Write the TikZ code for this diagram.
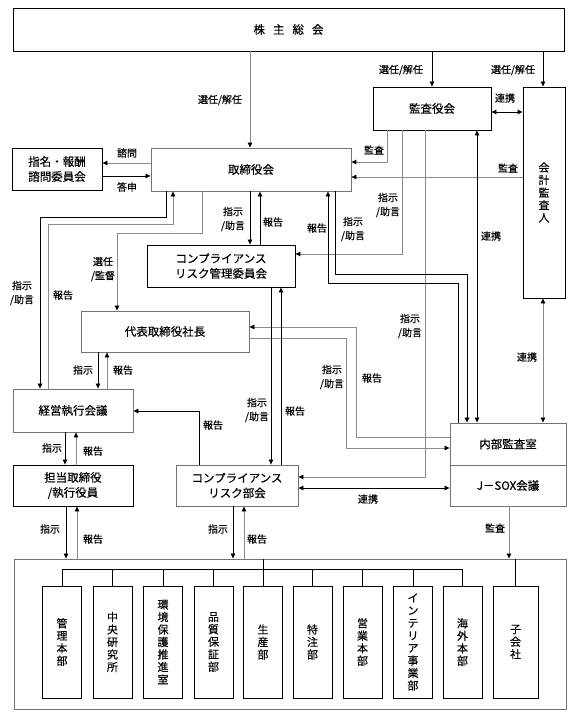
\documentclass[tikz,border=0pt]{standalone}
\usepackage{fontspec}
\setmainfont{Noto Sans CJK JP}[FakeBold=0.35]
\usetikzlibrary{arrows.meta}

\tikzset{
  box/.style={draw, line width=0.9pt, inner sep=0pt, align=center, font=\fontsize{11.5}{15}\selectfont},
  gbox/.style={box, draw=black!55},
  vbox/.style={draw, line width=0.9pt, inner sep=0pt, align=center, font=\fontsize{11}{12.5}\selectfont},
  dept/.style={vbox, minimum width=39pt, minimum height=112pt},
  lbl/.style={inner sep=0pt, align=center, font=\fontsize{10}{14}\selectfont},
  ln/.style={line width=0.8pt},
  gln/.style={line width=0.8pt, draw=black!45}
}

\begin{document}
\begin{tikzpicture}[x=1pt,y=-1pt,>={Triangle[length=5pt,width=4.5pt,color=black]}]
\useasboundingbox (0,0) rectangle (576,717);

\node[box, minimum width=551pt, minimum height=43pt] (kabu) at (288.5,29.5) {株\hspace{8pt}主\hspace{8pt}総\hspace{8pt}会};
\node[box, minimum width=118pt, minimum height=43pt] (kansa) at (432,108.5) {監査役会};
\node[vbox, minimum width=42pt, minimum height=211pt] (kaikei) at (544,192.5) {会\\計\\監\\査\\人};
\node[gbox, minimum width=200pt, minimum height=43pt] (tor) at (251,169.5) {取締役会};
\node[box, minimum width=90pt, minimum height=42pt] (shimei) at (57,169) {指名・報酬\\諮問委員会};
\node[box, minimum width=148pt, minimum height=42pt] (cmte) at (221,266) {コンプライアンス\\リスク管理委員会};
\node[gbox, minimum width=168pt, minimum height=41pt] (ceo) at (165,331.5) {代表取締役社長};
\node[gbox, minimum width=120pt, minimum height=43pt] (keiei) at (73,410.5) {経営執行会議};
\node[box, minimum width=120pt, minimum height=41pt] (tanto) at (73,485.5) {担当取締役\\/執行役員};
\node[gbox, minimum width=122pt, minimum height=41pt] (bukai) at (237,485.5) {コンプライアンス\\リスク部会};
\node[gbox, minimum width=116pt, minimum height=42pt] (naibu) at (508,444) {内部監査室};
\node[gbox, minimum width=116pt, minimum height=41pt] (jsox) at (508,485.5) {J－SOX会議};
\node[gbox, minimum width=552pt, minimum height=150pt] (outer) at (290,634) {};

\node[dept] (d1) at (62,642) {管\\理\\本\\部};
\node[dept] (d2) at (112.5,642) {中\\央\\研\\究\\所};
\node[dept] (d3) at (163,642) {環\\境\\保\\護\\推\\進\\室};
\node[dept] (d4) at (213.5,642) {品\\質\\保\\証\\部};
\node[dept] (d5) at (263,642) {生\\産\\部};
\node[dept] (d6) at (312.5,642) {特\\注\\部};
\node[dept] (d7) at (362.5,642) {営\\業\\本\\部};
\node[dept] (d8) at (413,642) {イ\\ン\\テ\\リ\\ア\\事\\業\\部};
\node[dept] (d9) at (462.5,642) {海\\外\\本\\部};
\node[dept, minimum width=45pt] (d10) at (515.5,642) {子\\会\\社};

\draw[gln,->] (250,0 |- kabu.south) -- (250,0 |- tor.north);
\draw[ln,->] (432,0 |- kabu.south) -- (kansa.north);
\draw[ln,->] (543,0 |- kabu.south) -- (543,0 |- kaikei.north);
\draw[ln,<->] (kansa.east |- 0,112) -- (kaikei.west |- 0,112);
\draw[gln,->] (387,0 |- kansa.south) |- (tor.east |- 0,162);
\draw[gln,->] (kaikei.west |- 0,177) -- (tor.east |- 0,177);
\draw[gln,->] (402,0 |- kansa.south) |- (cmte.east |- 0,254);
\draw[gln,->] (425,0 |- kansa.south) |- (bukai.east |- 0,477);
\draw[ln,<->] (477,0 |- kansa.south) -- (477,0 |- naibu.north);
\draw[gln,<->] (543,0 |- kaikei.south) -- (543,0 |- naibu.north);
\draw[gln,->] (tor.west |- 0,163) -- (shimei.east |- 0,163);
\draw[ln,->] (shimei.east |- 0,176) -- (tor.west |- 0,176);
\draw[ln,->] (166,0 |- tor.south) -- (166,217) -| (40,0 |- keiei.north);
\draw[gln,->] (48,0 |- keiei.north) |- (173,224) -- (173,0 |- tor.south);
\draw[gln,->] (202,0 |- tor.south) -- (202,233) -| (117,0 |- ceo.north);
\draw[ln,->] (250,0 |- tor.south) -- (250,0 |- cmte.north);
\draw[ln,->] (260,0 |- cmte.north) -- (260,0 |- tor.south);
\draw[ln,->] (335,0 |- tor.south) -- (335,274) -| (467,0 |- naibu.north);
\draw[ln,->] (458,0 |- naibu.north) |- (328,283) -- (328,0 |- tor.south);
\draw[gln,->] (ceo.east |- 0,338) -| (346,448) -- (naibu.west |- 0,448);
\draw[gln,->] (naibu.west |- 0,437) -| (356,327) -- (ceo.east |- 0,327);
\draw[ln,->] (98,0 |- ceo.south) -- (98,0 |- keiei.north);
\draw[gln,->] (107,0 |- keiei.north) -- (107,0 |- ceo.south);
\draw[ln,->] (271,0 |- cmte.south) -- (271,0 |- bukai.north);
\draw[ln,->] (281,0 |- bukai.north) -- (281,0 |- cmte.south);
\draw[ln,->] (199,0 |- bukai.north) |- (keiei.east |- 0,411);
\draw[ln,->] (65,0 |- keiei.south) -- (65,0 |- tanto.north);
\draw[gln,->] (76,0 |- tanto.north) -- (76,0 |- keiei.south);
\draw[ln,->] (66,0 |- tanto.south) -- (66,0 |- outer.north);
\draw[gln,->] (77,0 |- outer.north) -- (77,0 |- tanto.south);
\draw[ln,->] (233,0 |- bukai.south) -- (233,0 |- outer.north);
\draw[gln,->] (244,0 |- outer.north) -- (244,0 |- bukai.south);
\draw[ln,<->] (bukai.east |- 0,488) -- (jsox.west |- 0,488);
\draw[gln,->] (509,0 |- jsox.south) -- (509,0 |- outer.north);

\draw[ln] (d1.north) -- (d1.north |- 0,569) -- (d9.north |- 0,569) -- (d9.north);
\draw[ln] (d2.north) -- (d2.north |- 0,569);
\draw[ln] (d3.north) -- (d3.north |- 0,569);
\draw[ln] (d4.north) -- (d4.north |- 0,569);
\draw[ln] (d5.north) -- (d5.north |- outer.north);
\draw[ln] (d6.north) -- (d6.north |- 0,569);
\draw[ln] (d7.north) -- (d7.north |- 0,569);
\draw[ln] (d8.north) -- (d8.north |- 0,569);
\draw[ln] (d10.north) -- (d10.north |- outer.north);

\node[lbl] (l1) at (220,100) {選任/解任};
\node[lbl] (l2) at (401,70) {選任/解任};
\node[lbl] (l3) at (513,70) {選任/解任};
\node[lbl] (l4) at (505,98) {連携};
\node[lbl] (l5) at (374,150) {監査};
\node[lbl] (l6) at (508,168) {監査};
\node[lbl] (l7) at (388,205) {指示\\/助言};
\node[lbl] (l8) at (410,326) {指示\\/助言};
\node[lbl] (l9) at (491,236) {連携};
\node[lbl] (l10) at (527,357) {連携};
\node[lbl] (l11) at (127,153) {諮問};
\node[lbl] (l12) at (127,187) {答申};
\node[lbl] (l13) at (22,293) {指示\\/助言};
\node[lbl] (l14) at (63,295) {報告};
\node[lbl] (l15) at (103,269) {選任\\/監督};
\node[lbl] (l16) at (233,219) {指示\\/助言};
\node[lbl] (l17) at (273,222) {報告};
\node[lbl] (l18) at (353,229) {指示\\/助言};
\node[lbl] (l19) at (317,228) {報告};
\node[lbl] (l20) at (332,377) {指示\\/助言};
\node[lbl] (l21) at (372,378) {報告};
\node[lbl] (l22) at (83,370) {指示};
\node[lbl] (l23) at (123,370) {報告};
\node[lbl] (l24) at (257,410) {指示\\/助言};
\node[lbl] (l25) at (295,411) {報告};
\node[lbl] (l26) at (213,425) {報告};
\node[lbl] (l27) at (52,448) {指示};
\node[lbl] (l28) at (93,451) {報告};
\node[lbl] (l29) at (50,529) {指示};
\node[lbl] (l30) at (93,539) {報告};
\node[lbl] (l31) at (218,529) {指示};
\node[lbl] (l32) at (257,539) {報告};
\node[lbl] (l33) at (368,499) {連携};
\node[lbl] (l34) at (495,528) {監査};
\end{tikzpicture}
\end{document}
